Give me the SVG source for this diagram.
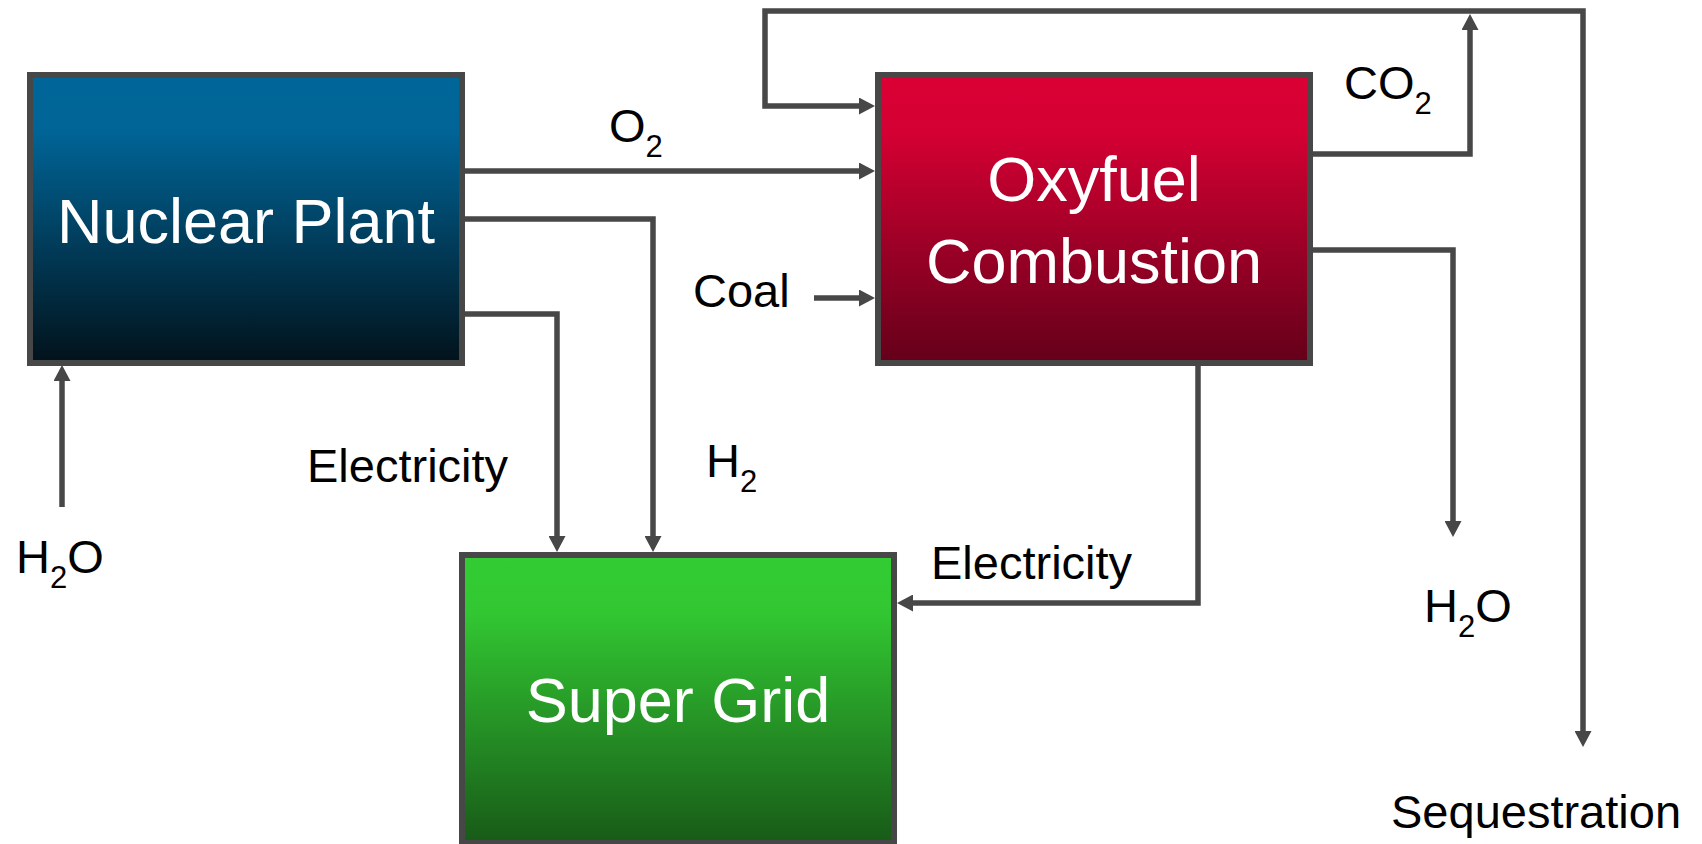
<svg xmlns="http://www.w3.org/2000/svg" width="1702" height="844" viewBox="0 0 1702 844">
<style>
.box{stroke:#474747;stroke-width:6}
.conn{fill:none;stroke:#474747;stroke-width:5.5;stroke-linejoin:miter}
.lbl{font-family:"Liberation Sans",Arial,Helvetica,sans-serif;font-size:47px;fill:#000}
.node{font-family:"Liberation Sans",Arial,Helvetica,sans-serif;font-size:63px;fill:#fff;text-anchor:middle}
.sub{font-size:31px}
</style>
<defs>
<linearGradient id="gBlue" x1="0" y1="0" x2="0" y2="1">
<stop offset="0" stop-color="#006699"/>
<stop offset="0.2" stop-color="#006496"/>
<stop offset="1" stop-color="#02121b"/>
</linearGradient>
<linearGradient id="gRed" x1="0" y1="0" x2="0" y2="1">
<stop offset="0" stop-color="#db0035"/>
<stop offset="0.2" stop-color="#d40033"/>
<stop offset="1" stop-color="#64001a"/>
</linearGradient>
<linearGradient id="gGreen" x1="0" y1="0" x2="0" y2="1">
<stop offset="0" stop-color="#33cc33"/>
<stop offset="0.2" stop-color="#32c732"/>
<stop offset="1" stop-color="#185a18"/>
</linearGradient>
<marker id="arr" markerUnits="userSpaceOnUse" markerWidth="17" markerHeight="17" refX="6" refY="8.5" orient="auto-start-reverse" viewBox="0 0 16 17">
<path d="M0,0 L16,8.5 L0,17 Z" fill="#474747"/>
</marker>
</defs>
<rect width="1702" height="844" fill="#fff"/>
<g id="connectors">
<path class="conn" d="M465,171 H865" marker-end="url(#arr)"/>
<path class="conn" d="M814,298 H865" marker-end="url(#arr)"/>
<path class="conn" d="M865,106 H765 V11 H1583 V737" marker-start="url(#arr)" marker-end="url(#arr)"/>
<path class="conn" d="M1313,154 H1470 V24" marker-end="url(#arr)"/>
<path class="conn" d="M1313,250 H1453 V527" marker-end="url(#arr)"/>
<path class="conn" d="M1198,365 V603 H907" marker-end="url(#arr)"/>
<path class="conn" d="M465,219 H653 V542" marker-end="url(#arr)"/>
<path class="conn" d="M465,314 H557 V542" marker-end="url(#arr)"/>
<path class="conn" d="M62,507 V375" marker-end="url(#arr)"/>
</g>
<g id="nuclear-plant">
<rect class="box" x="30" y="75" width="432" height="288" fill="url(#gBlue)"/>
<text class="node" x="246" y="243">Nuclear Plant</text>
</g>
<g id="oxyfuel-combustion">
<rect class="box" x="878" y="75" width="432" height="288" fill="url(#gRed)"/>
<text class="node" x="1094" y="201">Oxyfuel</text>
<text class="node" x="1094" y="283">Combustion</text>
</g>
<g id="super-grid">
<rect class="box" x="462" y="555" width="432" height="288" fill="url(#gGreen)"/>
<text class="node" x="678" y="722">Super Grid</text>
</g>
<g id="labels">
<text class="lbl" x="609" y="142">O<tspan class="sub" dy="15">2</tspan></text>
<text class="lbl" x="693" y="307">Coal</text>
<text class="lbl" x="1344" y="99">CO<tspan class="sub" dy="15">2</tspan></text>
<text class="lbl" x="307" y="482">Electricity</text>
<text class="lbl" x="706" y="477">H<tspan class="sub" dy="15">2</tspan></text>
<text class="lbl" x="16" y="573">H<tspan class="sub" dy="15">2</tspan><tspan dy="-15">O</tspan></text>
<text class="lbl" x="931" y="579">Electricity</text>
<text class="lbl" x="1424" y="622">H<tspan class="sub" dy="15">2</tspan><tspan dy="-15">O</tspan></text>
<text class="lbl" x="1391" y="828">Sequestration</text>
</g>
</svg>
